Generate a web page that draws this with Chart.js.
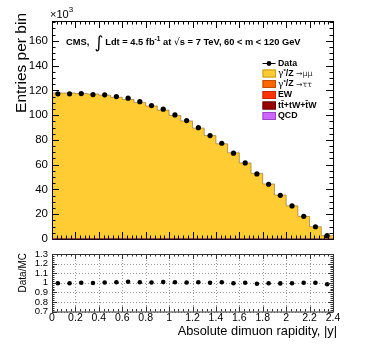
<!DOCTYPE html>
<html>
<head>
<meta charset="utf-8">
<script src="https://cdn.jsdelivr.net/npm/chart.js@4/dist/chart.umd.min.js"></script>
<style>
  html, body { margin: 0; padding: 0; background: #fff; }
  #wrap { position: relative; width: 374px; height: 359px; }
  canvas { position: absolute; left: 0; }
</style>
</head>
<body>
<div id="wrap">
  <canvas id="main" width="374" height="250" style="top:0"></canvas>
  <canvas id="ratio" width="374" height="114" style="top:245px"></canvas>
</div>
<script>
// bin edges in |y|, 24 bins of 0.1
const binEdges = [0, 0.1, 0.2, 0.3, 0.4, 0.5, 0.6, 0.7, 0.8, 0.9, 1.0, 1.1, 1.2,
  1.3, 1.4, 1.5, 1.6, 1.7, 1.8, 1.9, 2.0, 2.1, 2.2, 2.3, 2.4];
// entries per bin, in units of 10^3
const dataEntries = [117.2, 117.2, 117.4, 116.6, 116.4, 115.0, 113.7, 110.9, 107.7, 104.8,
  100.2, 95.6, 89.9, 83.5, 77.3, 69.3, 61.4, 52.5, 44.2, 35.3, 26.7, 18.3, 9.9, 2.7];
const zmumu = [117.4, 117.4, 117.0, 116.6, 115.7, 114.0, 112.2, 109.9, 107.0, 103.7,
  99.4, 95.0, 89.2, 83.2, 76.6, 69.4, 61.2, 52.8, 44.3, 35.4, 26.7, 18.2, 9.9, 2.7];
const ztautau = [0.12, 0.12, 0.12, 0.12, 0.12, 0.11, 0.11, 0.11, 0.11, 0.1, 0.1, 0.1,
  0.09, 0.09, 0.08, 0.07, 0.06, 0.05, 0.05, 0.04, 0.03, 0.02, 0.01, 0.01];
const ewk = [0.1, 0.1, 0.1, 0.1, 0.1, 0.1, 0.09, 0.09, 0.09, 0.09, 0.08, 0.08,
  0.08, 0.07, 0.07, 0.06, 0.05, 0.05, 0.04, 0.03, 0.03, 0.02, 0.01, 0.01];
const ttbar = [0.2, 0.2, 0.2, 0.19, 0.19, 0.18, 0.17, 0.16, 0.15, 0.14, 0.13, 0.12,
  0.1, 0.09, 0.08, 0.07, 0.06, 0.05, 0.04, 0.03, 0.02, 0.02, 0.01, 0.0];
const qcd = [0.04, 0.04, 0.04, 0.04, 0.04, 0.04, 0.04, 0.03, 0.03, 0.03, 0.03, 0.03,
  0.03, 0.02, 0.02, 0.02, 0.02, 0.02, 0.01, 0.01, 0.01, 0.01, 0.0, 0.0];
const ratio = [0.995, 0.995, 1.0, 0.997, 1.003, 1.005, 1.01, 1.005, 1.003, 1.007, 1.005, 1.003,
  1.005, 1.0, 1.005, 0.995, 1.0, 0.99, 0.995, 0.993, 0.995, 1.0, 1.0, 0.985];
const xTickLabels = ['0', '0.2', '0.4', '0.6', '0.8', '1', '1.2', '1.4', '1.6', '1.8', '2', '2.2', '2.4'];
const ratioTickLabels = ['0.7', '0.8', '0.9', '1', '1.1', '1.2', '1.3'];

const FONT = '"Liberation Sans", Arial, Helvetica, sans-serif';
Chart.defaults.font.family = FONT;
Chart.defaults.color = '#000';

const colors = {
  zmumu: '#FFCC33', ztautau: '#FF6600', ewk: '#FF3300', ttbar: '#990000', qcd: '#CC66FF'
};

const centers = binEdges.slice(0, -1).map((e, i) => (e + binEdges[i + 1]) / 2);

const steps = (vals) => {
  const pts = vals.map((v, i) => ({ x: binEdges[i], y: v }));
  pts.push({ x: binEdges[vals.length], y: vals[vals.length - 1] });
  return pts;
};

// stack from the bottom up
const layers = [
  ['qcd', qcd], ['ttbar', ttbar], ['ewk', ewk], ['ztautau', ztautau], ['zmumu', zmumu]
];
let cum = new Array(zmumu.length).fill(0);
const stacked = layers.map(([name, vals]) => {
  cum = cum.map((c, i) => c + vals[i]);
  return { name, vals: cum };
});

const stackSets = stacked.slice().reverse().map((s, i, arr) => ({
  label: s.name,
  data: steps(s.vals),
  stepped: true,
  borderColor: s.name === 'zmumu' ? 'rgba(140,100,30,0.75)' : colors[s.name],
  borderWidth: s.name === 'zmumu' ? 0.8 : 0.5,
  backgroundColor: colors[s.name],
  fill: i === arr.length - 1 ? 'origin' : '+1',
  pointRadius: 0
}));

function inwardTicks(ctx, scale, area, from, to, step, len, side) {
  const n = Math.round((to - from) / step);
  for (let k = 0; k <= n; k++) {
    const v = from + k * step;
    const p = Math.round(scale.getPixelForValue(v)) + 0.5;
    ctx.beginPath();
    if (side === 'bottom') { ctx.moveTo(p, area.bottom); ctx.lineTo(p, area.bottom - len); }
    if (side === 'top') { ctx.moveTo(p, area.top); ctx.lineTo(p, area.top + len); }
    if (side === 'left') { ctx.moveTo(area.left, p); ctx.lineTo(area.left + len, p); }
    if (side === 'right') { ctx.moveTo(area.right, p); ctx.lineTo(area.right - len, p); }
    ctx.stroke();
  }
}

const mainDecor = {
  id: 'mainDecor',
  afterDraw(chart) {
    const { ctx, chartArea: a, scales } = chart;
    const x = scales.x, y = scales.y;
    ctx.save();
    ctx.strokeStyle = '#000';
    ctx.lineWidth = 1;
    inwardTicks(ctx, x, a, 0, 2.4, 0.2, 7, 'bottom');
    inwardTicks(ctx, x, a, 0, 2.4, 0.04, 3.5, 'bottom');
    inwardTicks(ctx, x, a, 0, 2.4, 0.2, 7, 'top');
    inwardTicks(ctx, x, a, 0, 2.4, 0.04, 3.5, 'top');
    inwardTicks(ctx, y, a, 0, 160, 20, 7, 'left');
    inwardTicks(ctx, y, a, 0, 175, 5, 3.5, 'left');
    inwardTicks(ctx, y, a, 0, 160, 20, 7, 'right');
    inwardTicks(ctx, y, a, 0, 175, 5, 3.5, 'right');
    ctx.strokeRect(a.left + 0.5, a.top + 0.5, a.right - a.left, a.bottom - a.top);
    ctx.strokeStyle = '#3a1030';
    ctx.beginPath(); ctx.moveTo(a.left, a.bottom); ctx.lineTo(a.right, a.bottom); ctx.stroke();

    // axis title
    ctx.fillStyle = '#000';
    ctx.save();
    ctx.translate(22, 13);
    ctx.rotate(-Math.PI / 2);
    ctx.font = '15.5px ' + FONT;
    ctx.textAlign = 'right';
    ctx.textBaseline = 'middle';
    ctx.fillText('Entries per bin', 0, 0);
    ctx.restore();

    // x10^3
    ctx.textAlign = 'left';
    ctx.textBaseline = 'alphabetic';
    ctx.font = '11px ' + FONT;
    ctx.fillText('×10', 50, 18);
    const w10 = ctx.measureText('×10').width;
    ctx.font = '8px ' + FONT;
    ctx.fillText('3', 50 + w10, 12);

    // header
    let cx = 66;
    const base = 44.5;
    const put = (txt, font, dy = 0) => {
      ctx.font = font;
      ctx.fillText(txt, cx, base + dy);
      cx += ctx.measureText(txt).width;
    };
    const H = 'bold 9.3px ' + FONT;
    put('CMS,  ', H);
    put('∫', '17px "DejaVu Sans", ' + FONT, 3);
    cx += 2;
    put('Ldt = 4.5 fb', H);
    put('-1', 'bold 6.5px ' + FONT, -4);
    put(' at ', H);
    put('√', '9.5px "DejaVu Sans", ' + FONT);
    put('s = 7 TeV, 60 < m < 120 GeV', H);

    // legend
    const B = 'bold 8.8px ' + FONT;
    const lx = 262.5, tx = 278;
    ctx.textBaseline = 'middle';
    ctx.lineWidth = 1;
    ctx.strokeStyle = '#000';
    ctx.beginPath(); ctx.moveTo(lx, 63.5); ctx.lineTo(lx + 13, 63.5); ctx.stroke();
    ctx.beginPath(); ctx.arc(lx + 6.5, 63.5, 2.4, 0, Math.PI * 2); ctx.fill();
    ctx.font = B;
    ctx.fillText('Data', tx, 63.5);
    const rows = [
      ['zmumu', 73.5, 'μμ'], ['ztautau', 84, 'ττ'], ['ewk', 95, 'EW'],
      ['ttbar', 105.5, 'tt̄+tW+t̄W'], ['qcd', 116, 'QCD']
    ];
    const edge = { zmumu: '#c79a20', ztautau: '#c24d00', ewk: '#c22600', ttbar: '#660000', qcd: '#9a44c8' };
    rows.forEach(([k, yy, lab]) => {
      ctx.fillStyle = colors[k];
      ctx.fillRect(lx, yy - 4, 13.5, 8);
      ctx.strokeStyle = edge[k];
      ctx.strokeRect(lx + 0.5, yy - 3.5, 12.5, 7);
      ctx.fillStyle = '#000';
      cx = tx;
      if (k === 'zmumu' || k === 'ztautau') {
        ctx.font = '9px "DejaVu Serif", serif';
        ctx.fillText('γ', cx, yy + 0.5); cx += ctx.measureText('γ').width;
        ctx.font = 'bold 6px ' + FONT;
        ctx.fillText('*', cx, yy - 2); cx += ctx.measureText('*').width;
        ctx.font = B;
        ctx.fillText('/Z ', cx, yy); cx += ctx.measureText('/Z ').width;
        ctx.font = '7.8px "DejaVu Sans", ' + FONT;
        ctx.fillStyle = '#333';
        ctx.fillText('→' + lab, cx, yy + 0.5);
        ctx.fillStyle = '#000';
      } else {
        ctx.font = B;
        ctx.fillText(lab, cx, yy);
      }
    });
    ctx.restore();
  }
};

new Chart(document.getElementById('main'), {
  type: 'line',
  data: {
    datasets: [
      {
        label: 'Data',
        data: centers.map((c, i) => ({ x: c, y: dataEntries[i] })),
        showLine: false,
        pointRadius: 2.6,
        pointBackgroundColor: '#000',
        pointBorderColor: '#000',
        pointBorderWidth: 0
      },
      ...stackSets
    ]
  },
  options: {
    responsive: false,
    animation: false,
    layout: { padding: { left: 0, top: 21, right: 41, bottom: 11 } },
    plugins: { legend: { display: false }, tooltip: { enabled: false } },
    scales: {
      x: { type: 'linear', min: 0, max: 2.4, display: false },
      y: {
        min: 0, max: 176,
        afterFit: (s) => { s.width = 52; },
        grid: { display: false, drawTicks: false },
        border: { display: false },
        ticks: { stepSize: 20, includeBounds: false, padding: 4, font: { size: 11.5 } }
      }
    }
  },
  plugins: [mainDecor]
});

const ratioDecor = {
  id: 'ratioDecor',
  beforeDatasetsDraw(chart) {
    const { ctx, chartArea: a, scales } = chart;
    ctx.save();
    ctx.strokeStyle = '#9a9a9a';
    ctx.lineWidth = 1;
    ctx.setLineDash([1, 2]);
    scales.y.ticks.forEach((t) => {
      const p = Math.round(scales.y.getPixelForValue(t.value)) + 0.5;
      ctx.beginPath(); ctx.moveTo(a.left, p); ctx.lineTo(a.right, p); ctx.stroke();
    });
    scales.x.ticks.forEach((t) => {
      const p = Math.round(scales.x.getPixelForValue(t.value)) + 0.5;
      ctx.beginPath(); ctx.moveTo(p, a.top); ctx.lineTo(p, a.bottom); ctx.stroke();
    });
    ctx.restore();
  },
  afterDraw(chart) {
    const { ctx, chartArea: a, scales } = chart;
    const x = scales.x, y = scales.y;
    ctx.save();
    ctx.strokeStyle = '#333';
    ctx.lineWidth = 1;
    inwardTicks(ctx, x, a, 0, 2.4, 0.2, 5, 'bottom');
    inwardTicks(ctx, x, a, 0, 2.4, 0.04, 2.5, 'bottom');
    inwardTicks(ctx, x, a, 0, 2.4, 0.2, 5, 'top');
    inwardTicks(ctx, x, a, 0, 2.4, 0.04, 2.5, 'top');
    inwardTicks(ctx, y, a, 0.7, 1.3, 0.1, 5, 'left');
    inwardTicks(ctx, y, a, 0.7, 1.3, 0.02, 2.5, 'left');
    inwardTicks(ctx, y, a, 0.7, 1.3, 0.1, 5, 'right');
    inwardTicks(ctx, y, a, 0.7, 1.3, 0.02, 2.5, 'right');
    ctx.strokeRect(a.left + 0.5, a.top + 0.5, a.right - a.left, a.bottom - a.top);

    ctx.fillStyle = '#000';
    ctx.save();
    ctx.translate(23, a.top - 1);
    ctx.rotate(-Math.PI / 2);
    ctx.font = '10px ' + FONT;
    ctx.textAlign = 'right';
    ctx.textBaseline = 'middle';
    ctx.fillText('Data/MC', 0, 0);
    ctx.restore();

    ctx.font = '12.8px ' + FONT;
    ctx.textAlign = 'right';
    ctx.textBaseline = 'middle';
    ctx.fillText('Absolute dimuon rapidity, |y|', 337, 331.5 - 245);
    ctx.restore();
  }
};

new Chart(document.getElementById('ratio'), {
  type: 'scatter',
  data: {
    datasets: [{
      label: 'Data/MC',
      data: centers.map((c, i) => ({ x: c, y: ratio[i] })),
      pointRadius: 2.3,
      pointBackgroundColor: '#000',
      pointBorderWidth: 0
    }]
  },
  options: {
    responsive: false,
    animation: false,
    layout: { padding: { left: 0, top: 9, right: 41, bottom: 0 } },
    plugins: { legend: { display: false }, tooltip: { enabled: false } },
    scales: {
      x: {
        type: 'linear', min: 0, max: 2.4,
        afterFit: (s) => { s.height = 47.5; },
        grid: { display: false, drawTicks: false },
        border: { display: false },
        ticks: {
          stepSize: 0.2, padding: 0, maxRotation: 0, autoSkip: false, font: { size: 10.5 },
          callback: (v) => xTickLabels[Math.round(v / 0.2)]
        }
      },
      y: {
        min: 0.7, max: 1.3,
        afterFit: (s) => { s.width = 52; },
        grid: { display: false, drawTicks: false },
        border: { display: false },
        ticks: {
          stepSize: 0.1, padding: 4, autoSkip: false, font: { size: 9.5, lineHeight: 1 },
          callback: (v) => ratioTickLabels[Math.round((v - 0.7) / 0.1)]
        }
      }
    }
  },
  plugins: [ratioDecor]
});
</script>
</body>
</html>
